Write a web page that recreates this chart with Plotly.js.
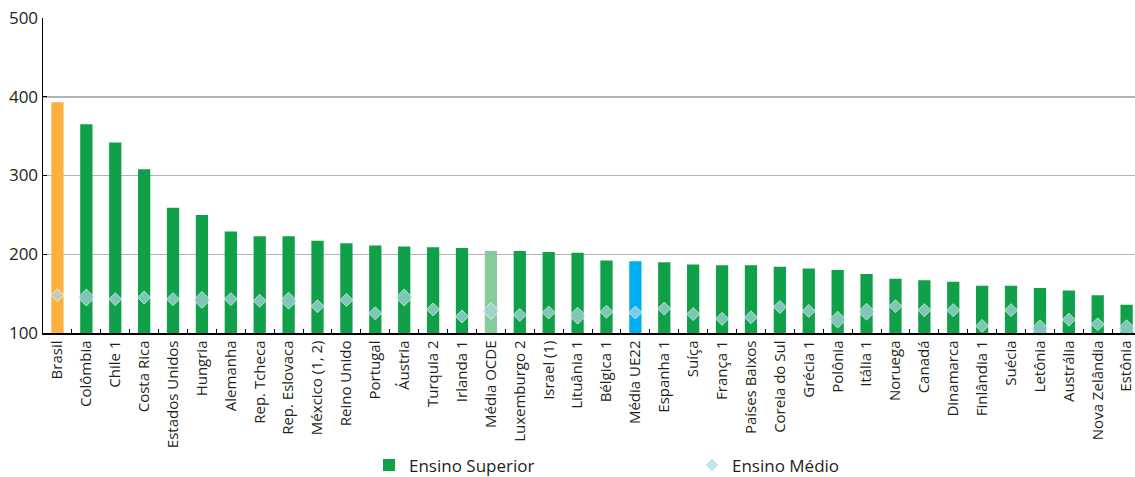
<!DOCTYPE html>
<html>
<head>
<meta charset="utf-8">
<script src="https://cdn.plot.ly/plotly-3.0.1.min.js"></script>
<style>html,body{margin:0;padding:0;background:#fff;}#chart{width:1135px;height:477px;}</style>
</head>
<body>
<div id="chart"></div>
<script>
const categories = ["Brasil","Colômbia","Chile 1","Costa Rica","Estados Unidos","Hungria","Alemanha","Rep. Tcheca","Rep. Eslovaca","Méxcico (1, 2)","Reino Unido","Portugal","Áustria","Turquia 2","Irlanda 1","Média OCDE","Luxemburgo 2","Israel (1)","Lituânia 1","Bélgica 1","Média UE22","Espanha 1","Suíça","França 1","Países Baixos","Coreia do Sul","Grécia 1","Polônia","Itália 1","Noruega","Canadá","Dinamarca","Finlândia 1","Suécia","Letônia","Austrália","Nova Zelândia","Estônia"];
const ensinoSuperior = [393,365,342,308,259,250,229,223,223,217,214,211,210,209,208,204,204,203,202,192,191,190,187,186,186,184,182,180,175,169,167,165,160,160,157,154,148,136];
const ensinoMedio = [148,145,143,145,143,142,143,141,141,134,142,125,145,130,121,128,123,126,122,127,126,131,124,118,120,133,128,117,127,134,129,129,109,129,106,117,111,106];

// styling
const highlight = {"Brasil":"#FBB040","Média OCDE":"#86CC9A","Média UE22":"#00AEEF"};
const isHi = categories.map(c => c in highlight);
const mainX = categories.filter((c,i) => !isHi[i]);
const mainY = ensinoSuperior.filter((v,i) => !isHi[i]);
const hiX = categories.filter((c,i) => isHi[i]);
const hiY = ensinoSuperior.filter((v,i) => isHi[i]);
const largeMarkers = ["Colômbia","Hungria","Rep. Eslovaca","Áustria","Média OCDE","Lituânia 1","Polônia","Itália 1","Letônia","Estônia"];
const markerSizes = categories.map(c => largeMarkers.includes(c) ? 13 : 10);
const font = "'Open Sans', 'Noto Sans', sans-serif";

const traces = [
  {type:"bar", x:mainX, y:mainY, name:"Ensino Superior",
   marker:{color:"#11A04A"}},
  {type:"bar", x:hiX, y:hiY, name:"Ensino Superior", showlegend:false,
   marker:{color:hiX.map(c => highlight[c])}},
  {type:"scatter", mode:"markers", x:categories, y:ensinoMedio, name:"Ensino Médio",
   marker:{symbol:"diamond", color:"#ADD8E6", size:markerSizes}, cliponaxis:false}
];

const layout = {
  width:1135, height:477,
  margin:{l:43, r:0, t:18, b:144},
  paper_bgcolor:"#fff", plot_bgcolor:"#fff",
  font:{family:font, color:"#231F20", size:15},
  barmode:"overlay",
  bargap:0.575,
  showlegend:true,
  legend:{orientation:"h", xref:"container", yref:"container", x:369/1135, xanchor:"left",
    y:0.062, yanchor:"top",
    font:{size:17, family:font, color:"#231F20"}, entrywidth:278, traceorder:"normal"},
  xaxis:{type:"category", categoryorder:"array", categoryarray:categories,
    range:[-0.5, 37.29], tickangle:-90, tickfont:{size:15}, automargin:false,
    showline:true, linecolor:"#000", linewidth:1.5, ticks:"inside", tickson:"boundaries",
    ticklen:4, tickcolor:"#000", showgrid:false, fixedrange:true},
  yaxis:{range:[100,500], tickvals:[100,200,300,400,500], tickfont:{size:17}, automargin:false,
    showline:true, linecolor:"#000", linewidth:1.5, ticks:"inside", ticklen:4,
    tickcolor:"#000", showgrid:true, gridcolor:"#B3B3B3", gridwidth:1.5,
    zeroline:false, fixedrange:true}
};

Plotly.newPlot("chart", traces, layout, {displayModeBar:false, staticPlot:true});
</script>
</body>
</html>
